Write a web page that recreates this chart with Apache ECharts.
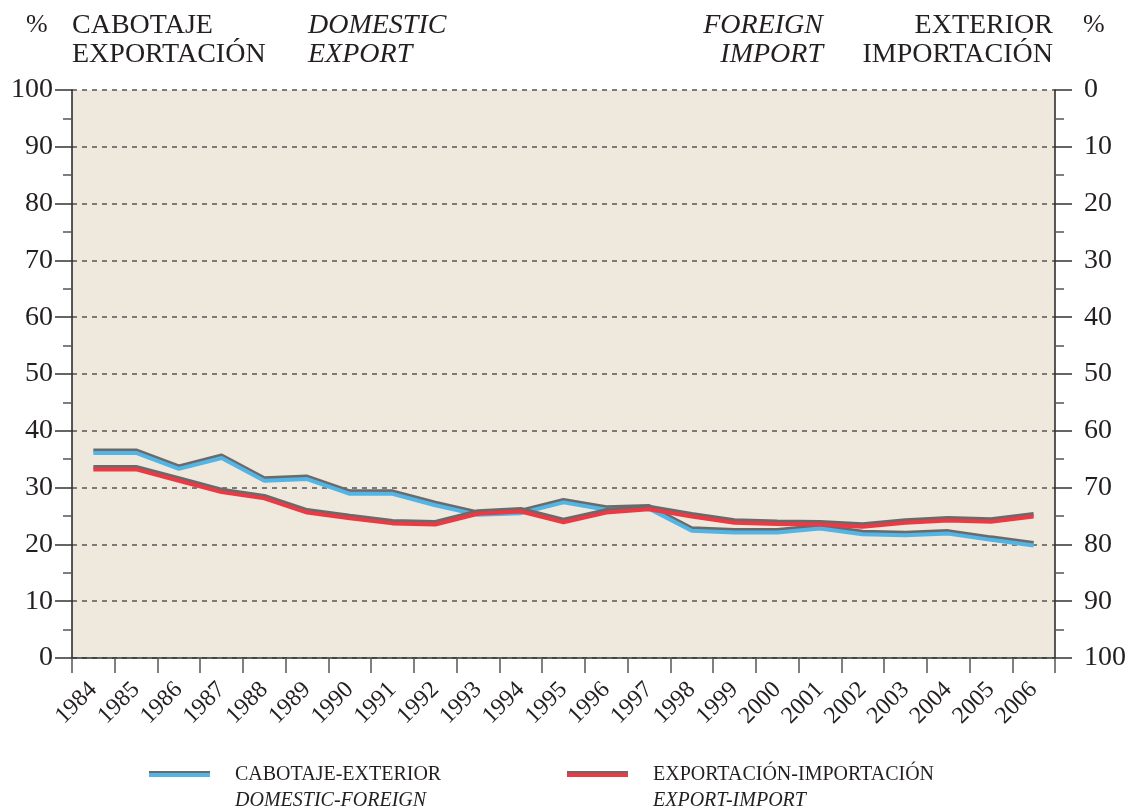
<!DOCTYPE html>
<html>
<head>
<meta charset="utf-8">
<script src="https://cdn.jsdelivr.net/npm/echarts@6/dist/echarts.min.js"></script>
<style>
  html, body { margin: 0; padding: 0; background: #fff; }
  #chart { width: 1125px; height: 811px; }
</style>
</head>
<body>
<div id="chart"></div>
<script>
// data
var years = ['1984', '1985', '1986', '1987', '1988', '1989', '1990', '1991', '1992', '1993', '1994', '1995',
  '1996', '1997', '1998', '1999', '2000', '2001', '2002', '2003', '2004', '2005', '2006'];
var cabotajeExterior = [36.1, 36.1, 33.3, 35.2, 31.2, 31.5, 28.9, 28.9, 26.9, 25.2, 25.5, 27.4,
  26.1, 26.3, 22.4, 22.1, 22.1, 22.8, 21.8, 21.6, 21.9, 20.8, 19.8];
var exportImport = [33.2, 33.2, 31.2, 29.2, 28.1, 25.6, 24.6, 23.7, 23.5, 25.4, 25.8, 23.9,
  25.6, 26.2, 24.9, 23.8, 23.6, 23.5, 23.1, 23.8, 24.2, 24.0, 24.9];
var seriesNames = ['CABOTAJE-EXTERIOR', 'EXPORTACIÓN-IMPORTACIÓN'];
var seriesSubNames = ['DOMESTIC-FOREIGN', 'EXPORT-IMPORT'];

var font = "'Liberation Serif', serif";
var ink = '#231f20';
var edge = '#6a6a6a';

function legendRich(first, second) {
  return '{s| }\n{a|' + first + '}\n{b|' + second + '}';
}

function header(x, text, italic, align) {
  return {
    type: 'text', x: x, y: 11,
    style: {
      text: text, font: (italic ? 'italic ' : '') + '28px ' + font,
      fill: ink, lineHeight: 29, align: align, verticalAlign: 'top'
    }
  };
}

var chart = echarts.init(document.getElementById('chart'));
chart.setOption({
  backgroundColor: '#fff',
  animation: false,
  grid: {
    left: 72, right: 70, top: 90, bottom: 153,
    outerBoundsMode: 'none',
    containLabel: false,
    show: true, backgroundColor: '#eee8dd', borderWidth: 0
  },
  legend: [0, 1].map(function (i) {
    return {
      data: [seriesNames[i]],
      left: i === 0 ? 147 : 565,
      top: 739,
      padding: 0,
      itemWidth: 61,
      itemHeight: 12,
      itemStyle: { opacity: 0 },
      lineStyle: { width: 4, shadowColor: edge, shadowBlur: 0, shadowOffsetY: -2 },
      formatter: function () { return legendRich(seriesNames[i], seriesSubNames[i]); },
      textStyle: {
        fontFamily: font,
        color: ink,
        rich: {
          s: { fontSize: 20, lineHeight: 26, padding: [0, 0, 0, 20] },
          a: { fontSize: 20, lineHeight: 26, fontFamily: font, color: ink, padding: [0, 0, 0, 20] },
          b: { fontSize: 20, lineHeight: 26, fontFamily: font, color: ink, fontStyle: 'italic', padding: [0, 0, 0, 20] }
        }
      }
    };
  }),
  xAxis: {
    type: 'category',
    data: years,
    boundaryGap: true,
    axisLine: { lineStyle: { color: '#333', width: 1.5 } },
    axisTick: { show: true, length: 15, interval: 0, lineStyle: { color: '#555', width: 1.5 } },
    axisLabel: {
      interval: 0, rotate: 45, margin: 28,
      fontFamily: font, fontSize: 24, color: ink
    },
    splitLine: { show: false }
  },
  yAxis: [{
    type: 'value',
    min: 0, max: 100, interval: 10,
    position: 'left',
    axisLine: { show: true, lineStyle: { color: '#222', width: 1.5 } },
    axisTick: { show: true, length: 17, lineStyle: { color: '#333', width: 1.5 } },
    minorTick: { show: true, splitNumber: 2, length: 9, lineStyle: { color: '#555', width: 1.5 } },
    axisLabel: { margin: 19, fontFamily: font, fontSize: 28, color: ink },
    splitLine: { show: true, lineStyle: { color: '#555', type: [5, 5], width: 1.5 } }
  }, {
    type: 'value',
    min: 0, max: 100, interval: 10,
    inverse: true,
    position: 'right',
    axisLine: { show: true, lineStyle: { color: '#222', width: 1.5 } },
    axisTick: { show: true, length: 17, lineStyle: { color: '#333', width: 1.5 } },
    minorTick: { show: true, splitNumber: 2, length: 9, lineStyle: { color: '#555', width: 1.5 } },
    axisLabel: { margin: 29, fontFamily: font, fontSize: 28, color: ink },
    splitLine: { show: false }
  }],
  graphic: [
    { type: 'text', x: 26, y: 12, style: { text: '%', font: '26px ' + font, fill: ink, verticalAlign: 'top' } },
    header(72, 'CABOTAJE\nEXPORTACIÓN', false, 'left'),
    header(308, 'DOMESTIC\nEXPORT', true, 'left'),
    header(823, 'FOREIGN\nIMPORT', true, 'right'),
    header(1053, 'EXTERIOR\nIMPORTACIÓN', false, 'right'),
    { type: 'text', x: 1083, y: 12, style: { text: '%', font: '26px ' + font, fill: ink, verticalAlign: 'top' } }
  ],
  series: [{
    name: seriesNames[0],
    type: 'line',
    data: cabotajeExterior,
    symbol: 'none',
    color: '#52b5e6',
    lineStyle: { width: 4, color: '#52b5e6', shadowColor: edge, shadowBlur: 0, shadowOffsetY: -2.5 }
  }, {
    name: seriesNames[1],
    type: 'line',
    data: exportImport,
    symbol: 'none',
    color: '#ec3a44',
    lineStyle: { width: 4, color: '#ec3a44', shadowColor: edge, shadowBlur: 0, shadowOffsetY: -2.5 }
  }]
});
window.addEventListener('resize', function () {
  chart.resize();
});
</script>
</body>
</html>
